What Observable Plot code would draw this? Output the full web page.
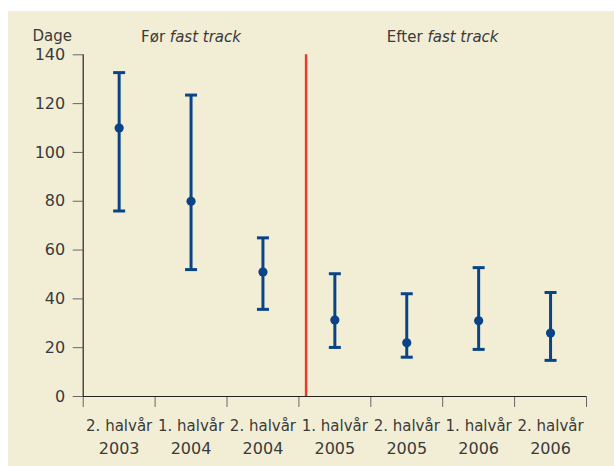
<!DOCTYPE html>
<html>
<head>
<meta charset="utf-8">
<script src="https://cdn.jsdelivr.net/npm/d3@7"></script>
<script src="https://cdn.jsdelivr.net/npm/@observablehq/plot@0.6"></script>
<style>
  html, body { margin: 0; padding: 0; background: #ffffff; }
  #panel { position: absolute; left: 8px; top: 11px; width: 606px; height: 455px; background: #f2eed6; }
</style>
</head>
<body>
<div id="panel"></div>
<script>
// Data
const categories = ["2. halvår\n2003", "1. halvår\n2004", "2. halvår\n2004", "1. halvår\n2005", "2. halvår\n2005", "1. halvår\n2006", "2. halvår\n2006"];
const means = [110, 80, 51, 31.3, 22, 31, 26];
const upper = [132.7, 123.5, 65, 50.3, 42.1, 52.8, 42.6];
const lower = [76, 52, 35.7, 20.1, 16.1, 19.3, 14.8];
const yTicks = [0, 20, 40, 60, 80, 100, 120, 140];
const xBounds = [-0.5, 0.5, 1.5, 2.5, 3.5, 4.5, 5.5, 6.5];
const dividerAt = [2.6];
const periodPrefix = ["Før", "Efter"];
const periodItalic = ["fast track", "fast track"];
const periodCenter = [1, 4.5];
const yLabel = "Dage";

const blue = "#0a4487";
const ink = "#3a3a3a";
const data = categories.map((c, i) => ({i, label: c, mean: means[i], hi: upper[i], lo: lower[i]}));
const headers = periodCenter.map((x, k) => ({x, text: periodPrefix[k] + " " + periodItalic[k]}));

const cap = {
  draw(context, size) {
    const w = Math.sqrt(size / Math.PI);
    context.moveTo(-w, 0);
    context.lineTo(w, 0);
  }
};

const chart = Plot.plot({
  width: 606,
  height: 455,
  marginLeft: 74.7,
  marginRight: 28,
  marginTop: 43.3,
  marginBottom: 70,
  style: {background: "transparent", fontFamily: "'DejaVu Sans', sans-serif", fontSize: "15px", color: ink, overflow: "visible"},
  x: {domain: [-0.5, 6.5]},
  y: {domain: [0, 140]},
  marks: [
    Plot.axisY({ticks: yTicks, tickSize: 10, tickPadding: 8, label: null, stroke: "#666", fontSize: 16, fill: ink}),
    Plot.axisX({ticks: xBounds, tickSize: 11, tickFormat: () => "", label: null, stroke: "#666"}),
    Plot.ruleX([-0.5], {stroke: "#222", strokeWidth: 1.2}),
    Plot.ruleY([0], {stroke: "#222", strokeWidth: 1.2}),
    Plot.text(data, {x: "i", y: 0, text: "label", lineAnchor: "top", dy: 18, lineHeight: 1.53, fill: ink, fontSize: 15, ariaLabel: "xlabel"}),
    Plot.ruleX(dividerAt, {y1: 0, y2: 140, stroke: "#e8392c", strokeWidth: 2.5}),
    Plot.ruleX(data, {x: "i", y1: "lo", y2: "hi", stroke: blue, strokeWidth: 3}),
    Plot.dot(data, {x: "i", y: "hi", symbol: cap, r: 6, fill: "none", stroke: blue, strokeWidth: 3}),
    Plot.dot(data, {x: "i", y: "lo", symbol: cap, r: 6, fill: "none", stroke: blue, strokeWidth: 3}),
    Plot.dot(data, {x: "i", y: "mean", r: 4.6, fill: blue, stroke: "none"}),
    Plot.text(headers, {x: "x", frameAnchor: "top", lineAnchor: "middle", text: "text", dy: -18, fill: ink, fontSize: 15}),
    Plot.text([yLabel], {frameAnchor: "top-left", textAnchor: "start", lineAnchor: "middle", dx: -50.7, dy: -19, fill: ink, fontSize: 15})
  ]
});

// Italicise the "fast track" part of the header labels
headers.forEach((h, k) => {
  d3.select(chart).selectAll("text")
    .filter(function() { return this.textContent === h.text; })
    .each(function() {
      const t = d3.select(this);
      t.text(null);
      t.append("tspan").text(periodPrefix[k] + " ");
      t.append("tspan").attr("font-style", "italic").text(periodItalic[k]);
    });
});

// Year lines of the x labels are set slightly larger, like the reference
d3.select(chart).selectAll("text").each(function() {
  const spans = this.querySelectorAll("tspan");
  if (spans.length === 2 && /^\d{4}$/.test(spans[1].textContent)) {
    spans[1].setAttribute("font-size", 16);
    spans[1].setAttribute("dy", 23);
  }
});

document.getElementById("panel").appendChild(chart);
</script>
</body>
</html>
